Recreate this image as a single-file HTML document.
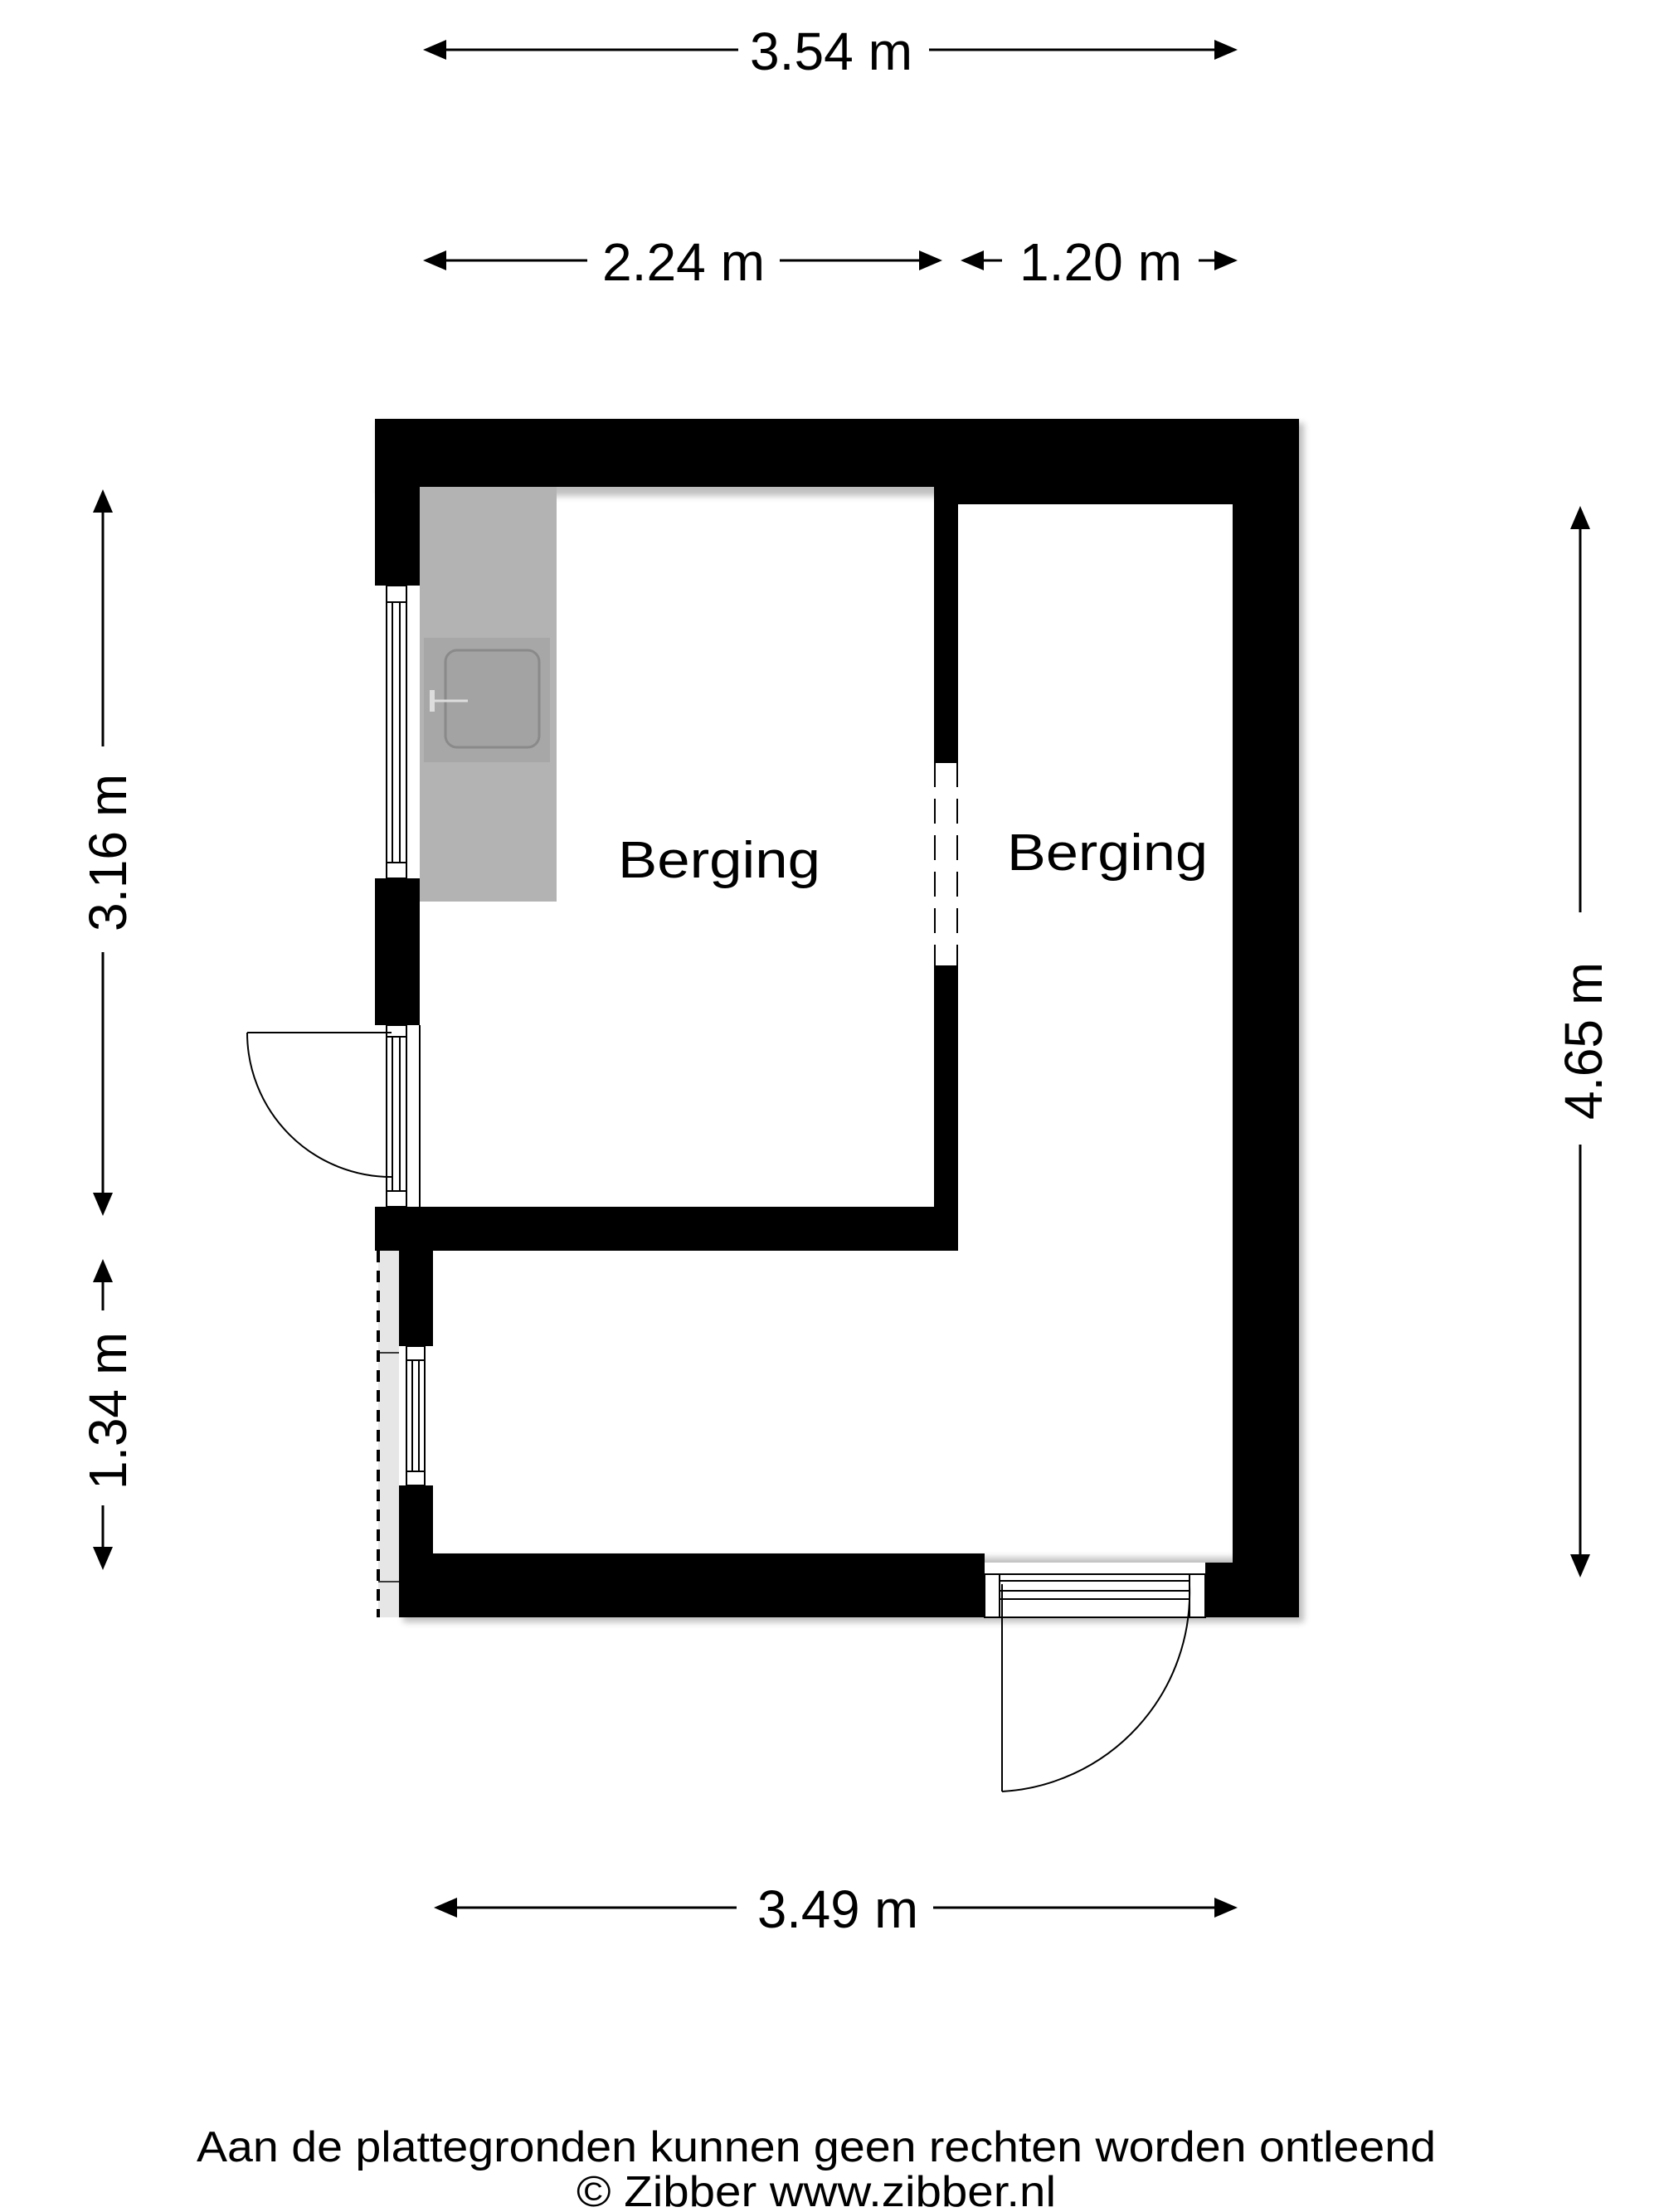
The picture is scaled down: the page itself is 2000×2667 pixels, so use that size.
<!DOCTYPE html>
<html><head><meta charset="utf-8"><style>
html,body{margin:0;padding:0;background:#fff;}
svg{display:block;}
text{font-family:"Liberation Sans",Arial,sans-serif;fill:#000;}
</style></head><body>
<svg width="2000" height="2667" viewBox="0 0 2000 2667" xmlns="http://www.w3.org/2000/svg">
<defs>
<filter id="sh" x="-5%" y="-5%" width="110%" height="110%"><feGaussianBlur stdDeviation="4"/></filter>
</defs>
<rect width="2000" height="2667" fill="#fff"/>

<g stroke="#000" stroke-width="3" fill="none">
<line x1="520" y1="60" x2="890" y2="60"/><line x1="1120" y1="60" x2="1480" y2="60"/>
<line x1="520" y1="314" x2="708" y2="314"/><line x1="940" y1="314" x2="1125" y2="314"/>
<line x1="1168" y1="314" x2="1208" y2="314"/><line x1="1445" y1="314" x2="1480" y2="314"/>
<line x1="533" y1="2300" x2="888" y2="2300"/><line x1="1125" y1="2300" x2="1480" y2="2300"/>
<line x1="124" y1="600" x2="124" y2="900"/><line x1="124" y1="1148" x2="124" y2="1456"/>
<line x1="124" y1="1528" x2="124" y2="1580"/><line x1="124" y1="1815" x2="124" y2="1883"/>
<line x1="1905" y1="620" x2="1905" y2="1100"/><line x1="1905" y1="1380" x2="1905" y2="1892"/>
</g>
<g fill="#000">
<polygon points="510,60 538,48 538,72"/><polygon points="1492,60 1464,48 1464,72"/>
<polygon points="510,314 538,302 538,326"/><polygon points="1136,314 1108,302 1108,326"/>
<polygon points="1158,314 1186,302 1186,326"/><polygon points="1492,314 1464,302 1464,326"/>
<polygon points="523,2300 551,2288 551,2312"/><polygon points="1492,2300 1464,2288 1464,2312"/>
<polygon points="124,590 112,618 136,618"/><polygon points="124,1466 112,1438 136,1438"/>
<polygon points="124,1518 112,1546 136,1546"/><polygon points="124,1893 112,1865 136,1865"/>
<polygon points="1905,610 1893,638 1917,638"/><polygon points="1905,1902 1893,1874 1917,1874"/>
</g>
<g font-size="64">
<text x="1002" y="84" text-anchor="middle" textLength="196" lengthAdjust="spacingAndGlyphs">3.54 m</text>
<text x="824" y="338" text-anchor="middle" textLength="196" lengthAdjust="spacingAndGlyphs">2.24 m</text>
<text x="1327" y="338" text-anchor="middle" textLength="196" lengthAdjust="spacingAndGlyphs">1.20 m</text>
<text x="1010" y="2324" text-anchor="middle" textLength="194" lengthAdjust="spacingAndGlyphs">3.49 m</text>
<text transform="translate(152,1028) rotate(-90)" text-anchor="middle" textLength="190" lengthAdjust="spacingAndGlyphs">3.16 m</text>
<text transform="translate(152,1701) rotate(-90)" text-anchor="middle" textLength="190" lengthAdjust="spacingAndGlyphs">1.34 m</text>
<text transform="translate(1931,1255) rotate(-90)" text-anchor="middle" textLength="190" lengthAdjust="spacingAndGlyphs">4.65 m</text>
</g>

<g fill="#000" opacity="0.25" filter="url(#sh)">
<rect x="456" y="510" width="1116" height="88"/>
<rect x="1490" y="510" width="82" height="1446"/>
<rect x="486" y="1878" width="1086" height="78"/>
</g>

<g fill="#000">
<rect x="452" y="505" width="1114" height="82"/>
<rect x="1155" y="505" width="411" height="103"/>
<rect x="452" y="505" width="54" height="1003"/>
<rect x="1126" y="587" width="29" height="921"/>
<rect x="452" y="1455" width="703" height="53"/>
<rect x="1486" y="505" width="80" height="1445"/>
<rect x="481" y="1508" width="41" height="442"/>
<rect x="481" y="1873" width="706" height="77"/>
<rect x="1453" y="1884" width="113" height="66"/>
</g>

<rect x="506" y="587" width="165" height="500" fill="#b3b3b3"/>
<rect x="511" y="769" width="152" height="150" fill="#a7a7a7"/>
<rect x="537" y="784" width="113" height="117" rx="14" fill="#a3a3a3" stroke="#8a8a8a" stroke-width="3"/>
<line x1="522" y1="845" x2="564" y2="845" stroke="#ddd" stroke-width="3"/>
<rect x="518" y="832" width="6" height="26" fill="#ddd"/>

<g stroke="#000" stroke-width="2">
<rect x="452" y="706" width="54" height="353" fill="#fff" stroke="none"/>
<rect x="466" y="706" width="24" height="353" fill="#fff"/>
<line x1="466" y1="726" x2="490" y2="726"/><line x1="466" y1="1040" x2="490" y2="1040"/>
<line x1="473" y1="726" x2="473" y2="1040"/><line x1="482" y1="726" x2="482" y2="1040"/>
<rect x="452" y="1236" width="54" height="219" fill="#fff" stroke="none"/>
<rect x="466" y="1236" width="24" height="219" fill="#fff"/>
<line x1="466" y1="1250" x2="490" y2="1250"/><line x1="466" y1="1436" x2="490" y2="1436"/>
<line x1="473" y1="1250" x2="473" y2="1436"/><line x1="482" y1="1250" x2="482" y2="1436"/>
<line x1="506" y1="1236" x2="506" y2="1455"/>
<rect x="481" y="1623" width="41" height="168" fill="#fff" stroke="none"/>
<rect x="490" y="1623" width="22" height="168" fill="#fff"/>
<line x1="490" y1="1640" x2="512" y2="1640"/><line x1="490" y1="1774" x2="512" y2="1774"/>
<line x1="497" y1="1640" x2="497" y2="1774"/><line x1="505" y1="1640" x2="505" y2="1774"/>
<rect x="1187" y="1884" width="266" height="66" fill="#fff" stroke="none"/>
<rect x="1187" y="1898" width="266" height="52" fill="#fff"/>
<line x1="1205" y1="1906" x2="1434" y2="1906"/><line x1="1205" y1="1918" x2="1434" y2="1918"/><line x1="1205" y1="1928" x2="1434" y2="1928"/>
<line x1="1205" y1="1898" x2="1205" y2="1950"/><line x1="1434" y1="1898" x2="1434" y2="1950"/>
</g>
<rect x="1126" y="919" width="29" height="246" fill="#fff"/>
<g stroke="#000" stroke-width="2" stroke-dasharray="30,14">
<line x1="1127" y1="919" x2="1127" y2="1165"/><line x1="1154" y1="919" x2="1154" y2="1165"/>
</g>
<line x1="1126" y1="919" x2="1155" y2="919" stroke="#000" stroke-width="2"/>
<line x1="1126" y1="1165" x2="1155" y2="1165" stroke="#000" stroke-width="2"/>

<rect x="456" y="1508" width="25" height="442" fill="#e6e6e6"/>
<line x1="456" y1="1508" x2="456" y2="1950" stroke="#000" stroke-width="4" stroke-dasharray="14,10"/>
<line x1="456" y1="1631" x2="481" y2="1631" stroke="#000" stroke-width="1.5"/>
<line x1="456" y1="1907" x2="481" y2="1907" stroke="#000" stroke-width="1.5"/>

<g stroke="#000" stroke-width="2" fill="none">
<line x1="472" y1="1245" x2="298" y2="1245"/>
<path d="M298,1245 A174,174 0 0 0 472,1419"/>
<line x1="1208" y1="1910" x2="1208" y2="2160"/>
<path d="M1208,2160 A240,240 0 0 0 1434,1912"/>
</g>

<text x="745" y="1058" font-size="62" textLength="244" lengthAdjust="spacingAndGlyphs">Berging</text>
<text x="1214" y="1049" font-size="62" textLength="242" lengthAdjust="spacingAndGlyphs">Berging</text>

<text x="984" y="2606" font-size="52" text-anchor="middle" textLength="1494" lengthAdjust="spacingAndGlyphs">Aan de plattegronden kunnen geen rechten worden ontleend</text>
<text x="984" y="2660" font-size="52" text-anchor="middle" textLength="578" lengthAdjust="spacingAndGlyphs">© Zibber www.zibber.nl</text>
</svg>
</body></html>
